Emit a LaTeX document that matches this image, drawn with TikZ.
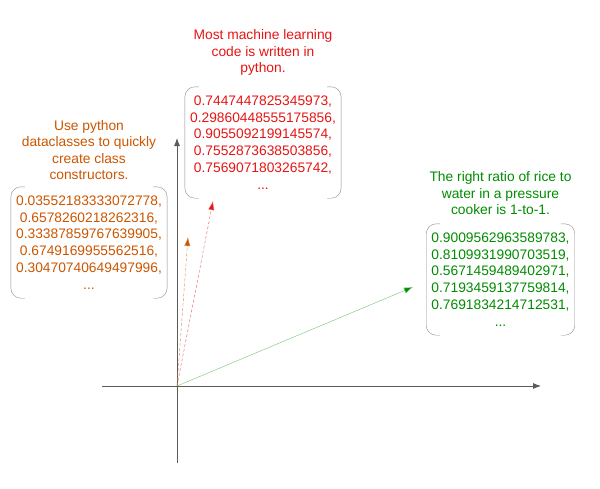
\documentclass[tikz,border=0pt]{standalone}
\usepackage{fontspec}
\setmainfont{Liberation Sans}
\usetikzlibrary{arrows.meta}

\definecolor{vorange}{RGB}{204,85,0}
\definecolor{vred}{RGB}{230,20,20}
\definecolor{vgreen}{RGB}{0,140,0}
\definecolor{lgreen}{RGB}{110,200,110}
\definecolor{axisgray}{RGB}{90,90,90}
\definecolor{brgray}{RGB}{140,140,140}

\tikzset{
  axis/.style={draw=axisgray, thick, -{Latex[length=8pt,width=6pt]}},
  vec/.style={-{Latex[length=9pt,width=6pt]}},
  title/.style={align=center, anchor=south, inner sep=0pt, font=\fontsize{13.8}{16.5}\selectfont},
  valbox/.style={align=center, inner xsep=5pt, inner ysep=0pt, minimum height=111pt, font=\fontsize{13.8}{16.7}\selectfont},
  bracket/.style={draw=brgray, thin, rounded corners=10pt}
}

\begin{document}
\begin{tikzpicture}[x=1pt,y=-1pt]
  \useasboundingbox (0,0) rectangle (600,488);

  % axes
  \coordinate (O) at (177,386);
  \coordinate (xl) at (102,386);
  \coordinate (xr) at (541,386);
  \coordinate (yb) at (177,463);
  \coordinate (yt) at (177,138);
  \draw[axis] (xl) -- (xr);
  \draw[axis] (yb) -- (yt);

  % orange
  \node[valbox, text=vorange] (val1) at (89,242.5) {0.03552183333072778,\\0.6578260218262316,\\0.33387859767639905,\\0.6749169955562516,\\0.30470740649497996,\\...};
  \node[title, text=vorange] (txt1) at (89,180) {Use python\\dataclasses to quickly\\create class\\constructors.};
  \draw[bracket] ([xshift=14pt]val1.north west) -- (val1.north west) -- (val1.south west) -- ([xshift=14pt]val1.south west);
  \draw[bracket] ([xshift=-14pt]val1.north east) -- (val1.north east) -- (val1.south east) -- ([xshift=-14pt]val1.south east);

  % red
  \node[valbox, text=vred] (val2) at (263,142.5) {0.7447447825345973,\\0.29860448555175856,\\0.9055092199145574,\\0.7552873638503856,\\0.7569071803265742,\\...};
  \node[title, text=vred] (txt2) at (263,76) {Most machine learning\\code is written in\\python.};
  \draw[bracket] ([xshift=14pt]val2.north west) -- (val2.north west) -- (val2.south west) -- ([xshift=14pt]val2.south west);
  \draw[bracket] ([xshift=-14pt]val2.north east) -- (val2.north east) -- (val2.south east) -- ([xshift=-14pt]val2.south east);

  % green
  \node[valbox, text=vgreen] (val3) at (500.5,279.5) {0.9009562963589783,\\0.8109931990703519,\\0.5671459489402971,\\0.7193459137759814,\\0.7691834214712531,\\...};
  \node[title, text=vgreen] (txt3) at (500.5,215) {The right ratio of rice to\\water in a pressure\\cooker is 1-to-1.};
  \draw[bracket] ([xshift=14pt]val3.north west) -- (val3.north west) -- (val3.south west) -- ([xshift=14pt]val3.south west);
  \draw[bracket] ([xshift=-14pt]val3.north east) -- (val3.north east) -- (val3.south east) -- ([xshift=-14pt]val3.south east);

  % vectors
  \coordinate (v1) at (188,237);
  \coordinate (v2) at (213,201);
  \coordinate (v3) at (413,287);
  \draw[vec, draw=vorange!70, dash pattern=on 3pt off 2pt, -{Latex[length=9pt,width=6pt,fill=vorange]}] (O) -- (v1);
  \draw[vec, draw=vred!70, dash pattern=on 3pt off 2pt, -{Latex[length=9pt,width=6pt,fill=vred]}] (O) -- (v2);
  \draw[vec, draw=lgreen, -{Latex[length=9pt,width=6pt,fill=vgreen]}] (O) -- (v3);
\end{tikzpicture}
\end{document}
